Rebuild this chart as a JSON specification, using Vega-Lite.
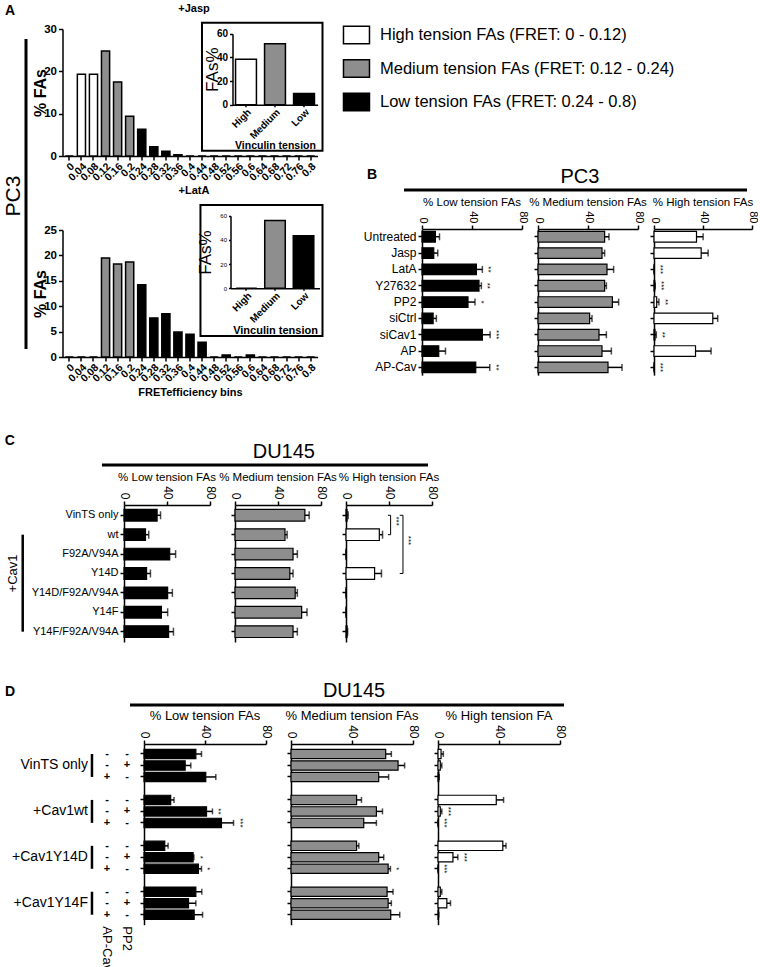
{
"$schema": "https://vega.github.io/schema/vega-lite/v6.json",
"padding": {"left": 2, "top": 2, "right": 0, "bottom": 0},
"config": {
  "font": "Liberation Sans",
  "view": {"stroke": null},
  "mark": {"color": "#000000"},
  "axis": {"domainColor": "#000000", "tickColor": "#000000", "labelColor": "#000000", "titleColor": "#000000", "domainWidth": 1.5, "tickWidth": 1.5, "grid": false},
  "title": {"fontSize": 11.5, "fontWeight": "normal", "color": "#000000", "offset": 2}
},
"datasets": {
  "histJasp": [
    {"bin": "0", "pct": 0, "tension": "High"}, {"bin": "0.04", "pct": 19.3, "tension": "High"}, {"bin": "0.08", "pct": 19.3, "tension": "High"},
    {"bin": "0.12", "pct": 24.8, "tension": "Medium"}, {"bin": "0.16", "pct": 17.5, "tension": "Medium"}, {"bin": "0.2", "pct": 9.4, "tension": "Medium"},
    {"bin": "0.24", "pct": 6.3, "tension": "Low"}, {"bin": "0.28", "pct": 2.2, "tension": "Low"}, {"bin": "0.32", "pct": 1.1, "tension": "Low"},
    {"bin": "0.36", "pct": 0.3, "tension": "Low"}, {"bin": "0.4", "pct": 0, "tension": "Low"}, {"bin": "0.44", "pct": 0, "tension": "Low"},
    {"bin": "0.48", "pct": 0, "tension": "Low"}, {"bin": "0.52", "pct": 0, "tension": "Low"}, {"bin": "0.56", "pct": 0, "tension": "Low"},
    {"bin": "0.6", "pct": 0, "tension": "Low"}, {"bin": "0.64", "pct": 0, "tension": "Low"}, {"bin": "0.68", "pct": 0, "tension": "Low"},
    {"bin": "0.72", "pct": 0, "tension": "Low"}, {"bin": "0.76", "pct": 0, "tension": "Low"}, {"bin": "0.8", "pct": 0, "tension": "Low"}
  ],
  "histLatA": [
    {"bin": "0", "pct": 0, "tension": "High"}, {"bin": "0.04", "pct": 0, "tension": "High"}, {"bin": "0.08", "pct": 0, "tension": "High"},
    {"bin": "0.12", "pct": 19.5, "tension": "Medium"}, {"bin": "0.16", "pct": 18.3, "tension": "Medium"}, {"bin": "0.2", "pct": 18.7, "tension": "Medium"},
    {"bin": "0.24", "pct": 14.2, "tension": "Low"}, {"bin": "0.28", "pct": 7.7, "tension": "Low"}, {"bin": "0.32", "pct": 8.5, "tension": "Low"},
    {"bin": "0.36", "pct": 4.9, "tension": "Low"}, {"bin": "0.4", "pct": 4.5, "tension": "Low"}, {"bin": "0.44", "pct": 2.9, "tension": "Low"},
    {"bin": "0.48", "pct": 0, "tension": "Low"}, {"bin": "0.52", "pct": 0.4, "tension": "Low"}, {"bin": "0.56", "pct": 0, "tension": "Low"},
    {"bin": "0.6", "pct": 0.4, "tension": "Low"}, {"bin": "0.64", "pct": 0, "tension": "Low"}, {"bin": "0.68", "pct": 0, "tension": "Low"},
    {"bin": "0.72", "pct": 0, "tension": "Low"}, {"bin": "0.76", "pct": 0, "tension": "Low"}, {"bin": "0.8", "pct": 0, "tension": "Low"}
  ],
  "insetJasp": [{"tension": "High", "pct": 38.5}, {"tension": "Medium", "pct": 51.5}, {"tension": "Low", "pct": 9.5}],
  "insetLatA": [{"tension": "High", "pct": 0}, {"tension": "Medium", "pct": 56}, {"tension": "Low", "pct": 43.5}],
  "legend": [
    {"tension": "High", "label": "High tension FAs (FRET: 0 - 0.12)"},
    {"tension": "Medium", "label": "Medium tension FAs (FRET: 0.12 - 0.24)"},
    {"tension": "Low", "label": "Low tension FAs (FRET: 0.24 - 0.8)"}
  ],
  "pc3": [
    {"cond": "Untreated", "low": 10.7, "lowErr": 14, "lowSig": "", "med": 53.3, "medErr": 56.8, "high": 34.7, "highErr": 40.1, "highSig": ""},
    {"cond": "Jasp", "low": 9.4, "lowErr": 12.6, "lowSig": "", "med": 51.2, "medErr": 53.3, "high": 38.5, "highErr": 44.2, "highSig": ""},
    {"cond": "LatA", "low": 43.5, "lowErr": 48.3, "lowSig": "**", "med": 55.2, "medErr": 60.5, "high": 0, "highErr": 0, "highSig": "***"},
    {"cond": "Y27632", "low": 45.6, "lowErr": 47.5, "lowSig": "**", "med": 53.3, "medErr": 54.7, "high": 0.6, "highErr": 1, "highSig": "***"},
    {"cond": "PP2", "low": 36.8, "lowErr": 42.4, "lowSig": "*", "med": 59.5, "medErr": 64.5, "high": 2.2, "highErr": 4, "highSig": "**"},
    {"cond": "siCtrl", "low": 8.9, "lowErr": 11.5, "lowSig": "", "med": 41.3, "medErr": 43.2, "high": 48, "highErr": 52, "highSig": ""},
    {"cond": "siCav1", "low": 48.3, "lowErr": 54.5, "lowSig": "***", "med": 48.8, "medErr": 54.7, "high": 0.8, "highErr": 1.9, "highSig": "**"},
    {"cond": "AP", "low": 13.4, "lowErr": 18.8, "lowSig": "", "med": 51.2, "medErr": 58.7, "high": 33.9, "highErr": 46.6, "highSig": ""},
    {"cond": "AP-Cav", "low": 43, "lowErr": 54.2, "lowSig": "**", "med": 56, "medErr": 67.2, "high": 0, "highErr": 0, "highSig": "***"}
  ],
  "du145c": [
    {"cond": "VinTS only", "low": 30.8, "lowErr": 34, "med": 65, "medErr": 69, "high": 1, "highErr": 2},
    {"cond": "wt", "low": 20, "lowErr": 23, "med": 46.5, "medErr": 48.5, "high": 31, "highErr": 34},
    {"cond": "F92A/V94A", "low": 42.5, "lowErr": 48, "med": 54, "medErr": 58, "high": 0, "highErr": 0},
    {"cond": "Y14D", "low": 21, "lowErr": 24.6, "med": 51, "medErr": 54, "high": 26.6, "highErr": 33},
    {"cond": "Y14D/F92A/V94A", "low": 40.6, "lowErr": 45, "med": 56, "medErr": 58, "high": 0, "highErr": 0},
    {"cond": "Y14F", "low": 34.8, "lowErr": 40.6, "med": 62, "medErr": 67, "high": 0, "highErr": 0},
    {"cond": "Y14F/F92A/V94A", "low": 41.5, "lowErr": 46, "med": 54, "medErr": 58, "high": 1, "highErr": 1.5}
  ],
  "du145d": [
    {"id": "v1", "group": "VinTS only", "pos": 1, "apcav": "-", "pp2": "-", "low": 34, "lowErr": 37.7, "lowSig": "", "med": 62.1, "medErr": 65.8, "medSig": "", "high": 2, "highErr": 3.5, "highSig": ""},
    {"id": "v2", "group": "VinTS only", "pos": 2, "apcav": "-", "pp2": "+", "low": 27, "lowErr": 30.7, "lowSig": "", "med": 70.2, "medErr": 74.5, "medSig": "", "high": 1.5, "highErr": 2.5, "highSig": ""},
    {"id": "v3", "group": "VinTS only", "pos": 3, "apcav": "+", "pp2": "-", "low": 40.5, "lowErr": 47.1, "lowSig": "", "med": 57.5, "medErr": 64, "medSig": "", "high": 0.5, "highErr": 0.8, "highSig": ""},
    {"id": "w1", "group": "+Cav1wt", "pos": 1, "apcav": "-", "pp2": "-", "low": 17.5, "lowErr": 19.7, "lowSig": "", "med": 43, "medErr": 46.2, "medSig": "", "high": 38.2, "highErr": 43, "highSig": ""},
    {"id": "w2", "group": "+Cav1wt", "pos": 2, "apcav": "-", "pp2": "+", "low": 41, "lowErr": 44.9, "lowSig": "**", "med": 56, "medErr": 60, "medSig": "", "high": 1.5, "highErr": 2.5, "highSig": "***"},
    {"id": "w3", "group": "+Cav1wt", "pos": 3, "apcav": "+", "pp2": "-", "low": 50.8, "lowErr": 58.7, "lowSig": "***", "med": 47.7, "medErr": 56, "medSig": "", "high": 0, "highErr": 0, "highSig": "***"},
    {"id": "d1", "group": "+Cav1Y14D", "pos": 1, "apcav": "-", "pp2": "-", "low": 13.6, "lowErr": 15.8, "lowSig": "", "med": 43, "medErr": 44.5, "medSig": "", "high": 42.5, "highErr": 44.6, "highSig": ""},
    {"id": "d2", "group": "+Cav1Y14D", "pos": 2, "apcav": "-", "pp2": "+", "low": 32.2, "lowErr": 32.7, "lowSig": "*", "med": 57.5, "medErr": 60.8, "medSig": "", "high": 9.8, "highErr": 13, "highSig": "***"},
    {"id": "d3", "group": "+Cav1Y14D", "pos": 3, "apcav": "+", "pp2": "-", "low": 35.7, "lowErr": 37.7, "lowSig": "*", "med": 63.7, "medErr": 65.2, "medSig": "*", "high": 0, "highErr": 0, "highSig": "***"},
    {"id": "f1", "group": "+Cav1Y14F", "pos": 1, "apcav": "-", "pp2": "-", "low": 34, "lowErr": 37.9, "lowSig": "", "med": 63, "medErr": 66.9, "medSig": "", "high": 1.5, "highErr": 2.5, "highSig": ""},
    {"id": "f2", "group": "+Cav1Y14F", "pos": 2, "apcav": "-", "pp2": "+", "low": 29.2, "lowErr": 34, "lowSig": "", "med": 63.7, "medErr": 65.8, "medSig": "", "high": 5.8, "highErr": 8.2, "highSig": ""},
    {"id": "f3", "group": "+Cav1Y14F", "pos": 3, "apcav": "+", "pp2": "-", "low": 32.9, "lowErr": 38.4, "lowSig": "", "med": 65.4, "medErr": 71.3, "medSig": "", "high": 0.3, "highErr": 0.5, "highSig": ""}
  ]
},
"spacing": 36,
"vconcat": [
 {
  "spacing": 16,
  "hconcat": [
   {
    "spacing": 4.5,
    "hconcat": [
     {
      "width": 22, "height": 323,
      "data": {"values": [{}]},
      "layer": [
       {"mark": {"type": "rule", "strokeWidth": 3},
        "encoding": {"x": {"datum": 1.0, "type": "quantitative", "scale": {"domain": [0, 1]}, "axis": null},
                     "y": {"datum": 0.969, "type": "quantitative", "scale": {"domain": [0, 1]}, "axis": null},
                     "y2": {"datum": 0.0093}}},
       {"mark": {"type": "text", "angle": 270, "fontSize": 21, "align": "center", "baseline": "middle"},
        "encoding": {"x": {"datum": 0.4545, "type": "quantitative", "scale": {"domain": [0, 1]}, "axis": null},
                     "y": {"datum": 0.483, "type": "quantitative", "scale": {"domain": [0, 1]}, "axis": null},
                     "text": {"value": "PC3"}}},
       {"mark": {"type": "text", "fontSize": 14, "fontWeight": "bold", "align": "left", "baseline": "middle"},
        "encoding": {"x": {"datum": 0.05, "type": "quantitative", "scale": {"domain": [0, 1]}, "axis": null},
                     "y": {"datum": 1.0557, "type": "quantitative", "scale": {"domain": [0, 1]}, "axis": null},
                     "text": {"value": "A"}}}
      ]
     },
     {
      "spacing": 1,
      "vconcat": [
       {
        "width": 255, "height": 127,
        "title": {"text": "+Jasp", "fontSize": 11, "fontWeight": "bold", "offset": 8, "frame": "group", "dx": 4},
        "layer": [
         {"data": {"name": "histJasp"},
          "mark": {"type": "bar", "stroke": "#000000", "strokeWidth": 1.5},
          "encoding": {
            "x": {"field": "bin", "type": "ordinal", "sort": null,
                  "scale": {"domain": ["0","0.04","0.08","0.12","0.16","0.2","0.24","0.28","0.32","0.36","0.4","0.44","0.48","0.52","0.56","0.6","0.64","0.68","0.72","0.76","0.8"], "paddingInner": 0.325, "paddingOuter": 0.23},
                  "axis": {"title": null, "labelAngle": -45, "labelFontSize": 10.5, "labelFontWeight": "bold", "tickSize": 4, "labelPadding": 1}},
            "y": {"field": "pct", "type": "quantitative", "scale": {"domain": [0, 30]},
                  "axis": {"values": [0, 10, 20, 30], "title": "% FAs", "titleFontSize": 16, "titleFontWeight": "bold", "labelFontSize": 11.5, "labelFontWeight": "bold", "tickSize": 4, "titlePadding": -5}},
            "fill": {"field": "tension", "type": "nominal", "scale": {"domain": ["High", "Medium", "Low"], "range": ["#ffffff", "#8e8e8e", "#000000"]}, "legend": null}
          }},
         {"data": {"values": [{}]},
          "mark": {"type": "rect", "fill": "#ffffff", "stroke": "#000000", "strokeWidth": 2},
          "encoding": {"x": {"datum": 0.547, "type": "quantitative", "scale": {"domain": [0, 1]}, "axis": null},
                       "x2": {"datum": 1.0196},
                       "y": {"datum": 1.0496, "type": "quantitative", "scale": {"domain": [0, 1]}, "axis": null},
                       "y2": {"datum": 0.0417}}},
         {"data": {"name": "insetJasp"},
          "mark": {"type": "bar", "stroke": "#000000", "strokeWidth": 1.5},
          "encoding": {
            "x": {"field": "tension", "type": "nominal", "sort": null,
                  "scale": {"domain": ["High", "Medium", "Low"], "range": [170, 255], "paddingInner": 0.28, "paddingOuter": 0.105},
                  "axis": {"orient": "bottom", "offset": -51.3, "zindex": 2, "title": "Vinculin tension", "labelAngle": -45, "labelFontSize": 10, "labelFontWeight": "bold", "labelPadding": 0, "titleFontSize": 10.5, "titleFontWeight": "bold", "titlePadding": 0, "tickSize": 2}},
            "y": {"field": "pct", "type": "quantitative", "scale": {"domain": [0, 60], "range": [75.7, 4.7]},
                  "axis": {"orient": "left", "offset": -170, "zindex": 2, "values": [0, 20, 40, 60], "title": "FAs%", "titleFontSize": 17, "titleFontWeight": "normal", "labelFontSize": 10, "labelFontWeight": "bold", "tickSize": 3, "titlePadding": -5}},
            "fill": {"field": "tension", "type": "nominal", "scale": {"domain": ["High", "Medium", "Low"], "range": ["#ffffff", "#8e8e8e", "#000000"]}, "legend": null}
          }}
        ],
        "resolve": {"scale": {"x": "independent", "y": "independent"}}
       },
       {
        "width": 255, "height": 127,
        "title": {"text": "+LatA", "fontSize": 11, "fontWeight": "bold", "offset": 8, "frame": "group", "dx": 4},
        "layer": [
         {"data": {"name": "histLatA"},
          "mark": {"type": "bar", "stroke": "#000000", "strokeWidth": 1.5},
          "encoding": {
            "x": {"field": "bin", "type": "ordinal", "sort": null,
                  "scale": {"domain": ["0","0.04","0.08","0.12","0.16","0.2","0.24","0.28","0.32","0.36","0.4","0.44","0.48","0.52","0.56","0.6","0.64","0.68","0.72","0.76","0.8"], "paddingInner": 0.325, "paddingOuter": 0.23},
                  "axis": {"title": "FRETefficiency bins", "titleFontSize": 11, "titleFontWeight": "bold", "titlePadding": 3, "labelAngle": -45, "labelFontSize": 10.5, "labelFontWeight": "bold", "tickSize": 4, "labelPadding": 1}},
            "y": {"field": "pct", "type": "quantitative", "scale": {"domain": [0, 25]},
                  "axis": {"values": [0, 5, 10, 15, 20, 25], "title": "% FAs", "titleFontSize": 16, "titleFontWeight": "bold", "labelFontSize": 11.5, "labelFontWeight": "bold", "tickSize": 4, "titlePadding": -5}},
            "fill": {"field": "tension", "type": "nominal", "scale": {"domain": ["High", "Medium", "Low"], "range": ["#ffffff", "#8e8e8e", "#000000"]}, "legend": null}
          }},
         {"data": {"values": [{}]},
          "mark": {"type": "rect", "fill": "#ffffff", "stroke": "#000000", "strokeWidth": 2},
          "encoding": {"x": {"datum": 0.541, "type": "quantitative", "scale": {"domain": [0, 1]}, "axis": null},
                       "x2": {"datum": 1.0196},
                       "y": {"datum": 1.197, "type": "quantitative", "scale": {"domain": [0, 1]}, "axis": null},
                       "y2": {"datum": 0.165}}},
         {"data": {"name": "insetLatA"},
          "mark": {"type": "bar", "stroke": "#000000", "strokeWidth": 1.5},
          "encoding": {
            "x": {"field": "tension", "type": "nominal", "sort": null,
                  "scale": {"domain": ["High", "Medium", "Low"], "range": [168, 257], "paddingInner": 0.28, "paddingOuter": 0.2},
                  "axis": {"orient": "bottom", "offset": -68.7, "zindex": 2, "title": "Vinculin tension", "labelAngle": -45, "labelFontSize": 10, "labelFontWeight": "bold", "labelPadding": 0, "titleFontSize": 11, "titleFontWeight": "bold", "titlePadding": 0, "tickSize": 2}},
            "y": {"field": "pct", "type": "quantitative", "scale": {"domain": [0, 60], "range": [58.3, -14.3]},
                  "axis": {"orient": "left", "offset": -168, "zindex": 2, "values": [0, 20, 40, 60], "title": "FAs%", "titleFontSize": 17, "titleFontWeight": "normal", "labelFontSize": 6, "tickSize": 2, "titlePadding": 5}},
            "fill": {"field": "tension", "type": "nominal", "scale": {"domain": ["High", "Medium", "Low"], "range": ["#ffffff", "#8e8e8e", "#000000"]}, "legend": null}
          }}
        ],
        "resolve": {"scale": {"x": "independent", "y": "independent"}}
       }
      ]
     }
    ]
   },
   {
    "spacing": 3,
    "vconcat": [
     {
      "width": 411, "height": 165,
      "layer": [
       {"data": {"name": "legend"},
        "mark": {"type": "point", "shape": "M-1,-0.68H1V0.68H-1Z", "size": 676, "filled": true, "stroke": "#000000", "strokeWidth": 1.5, "opacity": 1},
        "encoding": {
          "x": {"datum": 0.0328, "type": "quantitative", "scale": {"domain": [0, 1]}, "axis": null},
          "y": {"field": "tension", "type": "nominal", "sort": null, "scale": {"type": "point", "domain": ["High", "Medium", "Low"], "range": [6, 73], "padding": 0}, "axis": null},
          "fill": {"field": "tension", "type": "nominal", "scale": {"domain": ["High", "Medium", "Low"], "range": ["#ffffff", "#8e8e8e", "#000000"]}, "legend": null}
        }},
       {"data": {"name": "legend"},
        "mark": {"type": "text", "align": "left", "baseline": "middle", "fontSize": 16.5},
        "encoding": {
          "x": {"datum": 0.09, "type": "quantitative", "scale": {"domain": [0, 1]}, "axis": null},
          "y": {"field": "tension", "type": "nominal", "sort": null, "scale": {"type": "point", "domain": ["High", "Medium", "Low"], "range": [6, 73], "padding": 0}, "axis": null},
          "text": {"field": "label"}
        }},
       {"data": {"values": [{}]},
        "mark": {"type": "rule", "strokeWidth": 3},
        "encoding": {"x": {"datum": 0.1484, "type": "quantitative", "scale": {"domain": [0, 1]}, "axis": null},
                     "x2": {"datum": 0.983},
                     "y": {"datum": 0.0242, "type": "quantitative", "scale": {"domain": [0, 1]}, "axis": null}}},
       {"data": {"values": [{}]},
        "mark": {"type": "text", "fontSize": 20, "align": "center", "baseline": "middle"},
        "encoding": {"x": {"datum": 0.5766, "type": "quantitative", "scale": {"domain": [0, 1]}, "axis": null},
                     "y": {"datum": 0.106, "type": "quantitative", "scale": {"domain": [0, 1]}, "axis": null},
                     "text": {"value": "PC3"}}},
       {"data": {"values": [{}]},
        "mark": {"type": "text", "fontSize": 14, "fontWeight": "bold", "align": "left", "baseline": "middle"},
        "encoding": {"x": {"datum": 0.0584, "type": "quantitative", "scale": {"domain": [0, 1]}, "axis": null},
                     "y": {"datum": 0.115, "type": "quantitative", "scale": {"domain": [0, 1]}, "axis": null},
                     "text": {"value": "B"}}}
      ],
      "resolve": {"scale": {"y": "independent"}}
     },
     {
      "spacing": 16, "bounds": "flush",
      "hconcat": [
       {"width": 63, "height": 1, "data": {"values": [{}]}, "mark": {"type": "text"}, "encoding": {"text": {"value": ""}}},
       {
        "width": 100, "height": {"step": 16.33},
        "title": "% Low tension FAs",
        "data": {"name": "pc3"},
        "encoding": {"y": {"field": "cond", "type": "nominal", "sort": null,
                           "scale": {"type": "band", "domain": ["Untreated","Jasp","LatA","Y27632","PP2","siCtrl","siCav1","AP","AP-Cav"], "paddingInner": 0.35, "paddingOuter": 0.15},
                           "axis": {"title": null, "labelFontSize": 12, "tickSize": 4, "labelPadding": 2}}},
        "layer": [
         {"mark": {"type": "bar", "fill": "#000000", "stroke": "#000000", "strokeWidth": 1.2},
          "encoding": {"x": {"field": "low", "type": "quantitative", "scale": {"domain": [0, 80]},
                             "axis": {"orient": "top", "values": [0, 20, 40, 60, 80], "labelAngle": 90, "labelAlign": "right", "labelBaseline": "middle", "title": null, "labelFontSize": 11, "tickSize": 4, "labelPadding": 2}}}},
         {"mark": {"type": "rule", "strokeWidth": 1.5}, "encoding": {"x": {"field": "low", "type": "quantitative"}, "x2": {"field": "lowErr"}}},
         {"mark": {"type": "tick", "orient": "vertical", "thickness": 1.5, "size": 7}, "encoding": {"x": {"field": "lowErr", "type": "quantitative"}}},
         {"mark": {"type": "text", "angle": 90, "fontSize": 8, "dy": -6, "align": "center", "baseline": "middle"}, "encoding": {"x": {"field": "lowErr", "type": "quantitative"}, "text": {"field": "lowSig"}}}
        ]
       },
       {
        "width": 100, "height": {"step": 16.33},
        "title": "% Medium tension FAs",
        "data": {"name": "pc3"},
        "encoding": {"y": {"field": "cond", "type": "nominal", "sort": null,
                           "scale": {"type": "band", "domain": ["Untreated","Jasp","LatA","Y27632","PP2","siCtrl","siCav1","AP","AP-Cav"], "paddingInner": 0.35, "paddingOuter": 0.15},
                           "axis": {"title": null, "labels": false, "tickSize": 4}}},
        "layer": [
         {"mark": {"type": "bar", "fill": "#8e8e8e", "stroke": "#000000", "strokeWidth": 1.2},
          "encoding": {"x": {"field": "med", "type": "quantitative", "scale": {"domain": [0, 80]},
                             "axis": {"orient": "top", "values": [0, 20, 40, 60, 80], "labelAngle": 90, "labelAlign": "right", "labelBaseline": "middle", "title": null, "labelFontSize": 11, "tickSize": 4, "labelPadding": 2}}}},
         {"mark": {"type": "rule", "strokeWidth": 1.5}, "encoding": {"x": {"field": "med", "type": "quantitative"}, "x2": {"field": "medErr"}}},
         {"mark": {"type": "tick", "orient": "vertical", "thickness": 1.5, "size": 7}, "encoding": {"x": {"field": "medErr", "type": "quantitative"}}}
        ]
       },
       {
        "width": 98, "height": {"step": 16.33},
        "title": "% High tension FAs",
        "data": {"name": "pc3"},
        "encoding": {"y": {"field": "cond", "type": "nominal", "sort": null,
                           "scale": {"type": "band", "domain": ["Untreated","Jasp","LatA","Y27632","PP2","siCtrl","siCav1","AP","AP-Cav"], "paddingInner": 0.35, "paddingOuter": 0.15},
                           "axis": {"title": null, "labels": false, "tickSize": 4}}},
        "layer": [
         {"mark": {"type": "bar", "fill": "#ffffff", "stroke": "#000000", "strokeWidth": 1.2},
          "encoding": {"x": {"field": "high", "type": "quantitative", "scale": {"domain": [0, 80]},
                             "axis": {"orient": "top", "values": [0, 20, 40, 60, 80], "labelAngle": 90, "labelAlign": "right", "labelBaseline": "middle", "title": null, "labelFontSize": 11, "tickSize": 4, "labelPadding": 2}}}},
         {"mark": {"type": "rule", "strokeWidth": 1.5}, "encoding": {"x": {"field": "high", "type": "quantitative"}, "x2": {"field": "highErr"}}},
         {"mark": {"type": "tick", "orient": "vertical", "thickness": 1.5, "size": 7}, "encoding": {"x": {"field": "highErr", "type": "quantitative"}}},
         {"mark": {"type": "text", "angle": 90, "fontSize": 8, "dy": -6, "align": "center", "baseline": "middle"}, "encoding": {"x": {"field": "highErr", "type": "quantitative"}, "text": {"field": "highSig"}}}
        ]
       }
      ]
     }
    ]
   }
  ]
 },
 {
  "spacing": 5,
  "vconcat": [
   {
    "width": 424, "height": 32,
    "data": {"values": [{}]},
    "layer": [
     {"mark": {"type": "rule", "strokeWidth": 3},
      "encoding": {"x": {"datum": 0.231, "type": "quantitative", "scale": {"domain": [0, 1]}, "axis": null}, "x2": {"datum": 1},
                   "y": {"datum": 0.031, "type": "quantitative", "scale": {"domain": [0, 1]}, "axis": null}}},
     {"mark": {"type": "text", "fontSize": 20, "align": "center", "baseline": "middle"},
      "encoding": {"x": {"datum": 0.66, "type": "quantitative", "scale": {"domain": [0, 1]}, "axis": null},
                   "y": {"datum": 0.4375, "type": "quantitative", "scale": {"domain": [0, 1]}, "axis": null},
                   "text": {"value": "DU145"}}},
     {"mark": {"type": "text", "fontSize": 14, "fontWeight": "bold", "align": "left", "baseline": "middle"},
      "encoding": {"x": {"datum": 0.002, "type": "quantitative", "scale": {"domain": [0, 1]}, "axis": null},
                   "y": {"datum": 0.78, "type": "quantitative", "scale": {"domain": [0, 1]}, "axis": null},
                   "text": {"value": "C"}}}
    ]
   },
   {
    "spacing": 25, "bounds": "flush",
    "hconcat": [
     {
      "width": 95, "height": {"step": 19.4},
      "data": {"name": "du145c"},
      "encoding": {"y": {"field": "cond", "type": "nominal", "sort": null,
                         "scale": {"type": "band", "domain": ["VinTS only","wt","F92A/V94A","Y14D","Y14D/F92A/V94A","Y14F","Y14F/F92A/V94A"], "paddingInner": 0.4, "paddingOuter": 0.23},
                         "axis": null}},
      "layer": [
       {"transform": [{"filter": "datum.cond != 'VinTS only'"}],
        "mark": {"type": "line", "strokeWidth": 2.5},
        "encoding": {"x": {"datum": 0.197, "type": "quantitative", "scale": {"domain": [0, 1]}, "axis": null}}},
       {"mark": {"type": "text", "angle": 270, "fontSize": 13, "align": "center", "baseline": "middle"},
        "transform": [{"filter": "datum.cond == 'Y14D'"}],
        "encoding": {"x": {"datum": 0.095, "type": "quantitative", "scale": {"domain": [0, 1]}, "axis": null},
                     "text": {"value": "+Cav1"}}}
      ]
     },
     {
      "width": 86, "height": {"step": 19.4},
      "title": "% Low tension FAs",
      "data": {"name": "du145c"},
      "encoding": {"y": {"field": "cond", "type": "nominal", "sort": null,
                         "scale": {"type": "band", "domain": ["VinTS only","wt","F92A/V94A","Y14D","Y14D/F92A/V94A","Y14F","Y14F/F92A/V94A"], "paddingInner": 0.4, "paddingOuter": 0.23},
                         "axis": {"title": null, "labelFontSize": 11, "tickSize": 4, "labelPadding": 2}}},
      "layer": [
       {"mark": {"type": "bar", "fill": "#000000", "stroke": "#000000", "strokeWidth": 1.2},
        "encoding": {"x": {"field": "low", "type": "quantitative", "scale": {"domain": [0, 80]},
                           "axis": {"orient": "top", "values": [0, 20, 40, 60, 80], "labelAngle": 90, "labelAlign": "right", "labelBaseline": "middle", "title": null, "labelFontSize": 12, "tickSize": 4, "labelPadding": 2}}}},
       {"mark": {"type": "rule", "strokeWidth": 1.5}, "encoding": {"x": {"field": "low", "type": "quantitative"}, "x2": {"field": "lowErr"}}},
       {"mark": {"type": "tick", "orient": "vertical", "thickness": 1.5, "size": 8}, "encoding": {"x": {"field": "lowErr", "type": "quantitative"}}}
      ]
     },
     {
      "width": 86, "height": {"step": 19.4},
      "title": "% Medium tension FAs",
      "data": {"name": "du145c"},
      "encoding": {"y": {"field": "cond", "type": "nominal", "sort": null,
                         "scale": {"type": "band", "domain": ["VinTS only","wt","F92A/V94A","Y14D","Y14D/F92A/V94A","Y14F","Y14F/F92A/V94A"], "paddingInner": 0.4, "paddingOuter": 0.23},
                         "axis": {"title": null, "labels": false, "tickSize": 4}}},
      "layer": [
       {"mark": {"type": "bar", "fill": "#8e8e8e", "stroke": "#000000", "strokeWidth": 1.2},
        "encoding": {"x": {"field": "med", "type": "quantitative", "scale": {"domain": [0, 80]},
                           "axis": {"orient": "top", "values": [0, 20, 40, 60, 80], "labelAngle": 90, "labelAlign": "right", "labelBaseline": "middle", "title": null, "labelFontSize": 12, "tickSize": 4, "labelPadding": 2}}}},
       {"mark": {"type": "rule", "strokeWidth": 1.5}, "encoding": {"x": {"field": "med", "type": "quantitative"}, "x2": {"field": "medErr"}}},
       {"mark": {"type": "tick", "orient": "vertical", "thickness": 1.5, "size": 8}, "encoding": {"x": {"field": "medErr", "type": "quantitative"}}}
      ]
     },
     {
      "width": 86, "height": {"step": 19.4},
      "title": "% High tension FAs",
      "data": {"name": "du145c"},
      "encoding": {"y": {"field": "cond", "type": "nominal", "sort": null,
                         "scale": {"type": "band", "domain": ["VinTS only","wt","F92A/V94A","Y14D","Y14D/F92A/V94A","Y14F","Y14F/F92A/V94A"], "paddingInner": 0.4, "paddingOuter": 0.23},
                         "axis": {"title": null, "labels": false, "tickSize": 4}}},
      "layer": [
       {"mark": {"type": "bar", "fill": "#ffffff", "stroke": "#000000", "strokeWidth": 1.2},
        "encoding": {"x": {"field": "high", "type": "quantitative", "scale": {"domain": [0, 80]},
                           "axis": {"orient": "top", "values": [0, 20, 40, 60, 80], "labelAngle": 90, "labelAlign": "right", "labelBaseline": "middle", "title": null, "labelFontSize": 12, "tickSize": 4, "labelPadding": 2}}}},
       {"mark": {"type": "rule", "strokeWidth": 1.5}, "encoding": {"x": {"field": "high", "type": "quantitative"}, "x2": {"field": "highErr"}}},
       {"mark": {"type": "tick", "orient": "vertical", "thickness": 1.5, "size": 8}, "encoding": {"x": {"field": "highErr", "type": "quantitative"}}},
       {"transform": [{"filter": "datum.cond == 'VinTS only' || datum.cond == 'wt'"}],
        "mark": {"type": "line", "strokeWidth": 1},
        "encoding": {"x": {"datum": 41.5, "type": "quantitative"}}},
       {"transform": [{"filter": "datum.cond == 'VinTS only' || datum.cond == 'wt'"}],
        "mark": {"type": "rule", "strokeWidth": 1},
        "encoding": {"x": {"datum": 39, "type": "quantitative"}, "x2": {"datum": 41.5}}},
       {"transform": [{"filter": "datum.cond == 'VinTS only' || datum.cond == 'Y14D'"}],
        "mark": {"type": "line", "strokeWidth": 1},
        "encoding": {"x": {"datum": 53, "type": "quantitative"}}},
       {"transform": [{"filter": "datum.cond == 'VinTS only' || datum.cond == 'Y14D'"}],
        "mark": {"type": "rule", "strokeWidth": 1},
        "encoding": {"x": {"datum": 50, "type": "quantitative"}, "x2": {"datum": 53}}},
       {"transform": [{"filter": "datum.cond == 'VinTS only'"}],
        "mark": {"type": "text", "angle": 90, "fontSize": 8, "dy": -5, "align": "center", "baseline": "middle"},
        "encoding": {"x": {"datum": 41.5, "type": "quantitative"}, "y": {"field": "cond", "type": "nominal", "bandPosition": 1}, "text": {"value": "***"}}},
       {"transform": [{"filter": "datum.cond == 'wt'"}],
        "mark": {"type": "text", "angle": 90, "fontSize": 8, "dy": -5, "align": "center", "baseline": "middle"},
        "encoding": {"x": {"datum": 53, "type": "quantitative"}, "y": {"field": "cond", "type": "nominal", "bandPosition": 1}, "text": {"value": "***"}}}
      ]
     }
    ]
   }
  ]
 },
 {
  "spacing": 2,
  "vconcat": [
   {
    "width": 560, "height": 29,
    "data": {"values": [{}]},
    "layer": [
     {"mark": {"type": "rule", "strokeWidth": 3},
      "encoding": {"x": {"datum": 0.225, "type": "quantitative", "scale": {"domain": [0, 1]}, "axis": null}, "x2": {"datum": 1},
                   "y": {"datum": 0.069, "type": "quantitative", "scale": {"domain": [0, 1]}, "axis": null}}},
     {"mark": {"type": "text", "fontSize": 20, "align": "center", "baseline": "middle"},
      "encoding": {"x": {"datum": 0.625, "type": "quantitative", "scale": {"domain": [0, 1]}, "axis": null},
                   "y": {"datum": 0.552, "type": "quantitative", "scale": {"domain": [0, 1]}, "axis": null},
                   "text": {"value": "DU145"}}},
     {"mark": {"type": "text", "fontSize": 14, "fontWeight": "bold", "align": "left", "baseline": "middle"},
      "encoding": {"x": {"datum": 0.002, "type": "quantitative", "scale": {"domain": [0, 1]}, "axis": null},
                   "y": {"datum": 0.517, "type": "quantitative", "scale": {"domain": [0, 1]}, "axis": null},
                   "text": {"value": "D"}}}
    ]
   },
   {
    "spacing": 25, "bounds": "flush",
    "hconcat": [
     {
      "width": 115, "height": {"step": 11.48},
      "data": {"name": "du145d"},
      "encoding": {"y": {"field": "id", "type": "nominal", "sort": null,
                         "scale": {"type": "band", "domain": ["v1","v2","v3","s1","w1","w2","w3","s2","d1","d2","d3","s3","f1","f2","f3"], "paddingInner": 0.19, "paddingOuter": 0.466},
                         "axis": null}},
      "layer": [
       {"transform": [{"filter": "datum.pos == 2"}],
        "mark": {"type": "text", "align": "right", "baseline": "middle", "fontSize": 14},
        "encoding": {"x": {"datum": 0.73, "type": "quantitative", "scale": {"domain": [0, 1]}, "axis": null}, "text": {"field": "group"}}},
       {"mark": {"type": "line", "strokeWidth": 2.5},
        "encoding": {"x": {"datum": 0.765, "type": "quantitative", "scale": {"domain": [0, 1]}, "axis": null}, "detail": {"field": "group"}}},
       {"mark": {"type": "text", "align": "center", "baseline": "middle", "fontSize": 11, "fontWeight": "bold"},
        "encoding": {"x": {"datum": 0.896, "type": "quantitative", "scale": {"domain": [0, 1]}, "axis": null}, "text": {"field": "apcav"}}},
       {"mark": {"type": "text", "align": "center", "baseline": "middle", "fontSize": 11, "fontWeight": "bold"},
        "encoding": {"x": {"datum": 1.07, "type": "quantitative", "scale": {"domain": [0, 1]}, "axis": null}, "text": {"field": "pp2"}}},
       {"transform": [{"filter": "datum.id == 'f3'"}],
        "mark": {"type": "text", "angle": 90, "align": "left", "baseline": "middle", "fontSize": 13, "dx": 7},
        "encoding": {"x": {"datum": 0.896, "type": "quantitative", "scale": {"domain": [0, 1]}, "axis": null},
                     "y": {"field": "id", "type": "nominal", "bandPosition": 1}, "text": {"value": "AP-Cav"}}},
       {"transform": [{"filter": "datum.id == 'f3'"}],
        "mark": {"type": "text", "angle": 90, "align": "left", "baseline": "middle", "fontSize": 13, "dx": 7},
        "encoding": {"x": {"datum": 1.07, "type": "quantitative", "scale": {"domain": [0, 1]}, "axis": null},
                     "y": {"field": "id", "type": "nominal", "bandPosition": 1}, "text": {"value": "PP2"}}}
      ]
     },
     {
      "width": 122, "height": {"step": 11.48},
      "title": {"text": "% Low tension FAs", "fontSize": 13},
      "data": {"name": "du145d"},
      "encoding": {"y": {"field": "id", "type": "nominal", "sort": null,
                         "scale": {"type": "band", "domain": ["v1","v2","v3","s1","w1","w2","w3","s2","d1","d2","d3","s3","f1","f2","f3"], "paddingInner": 0.19, "paddingOuter": 0.466},
                         "axis": {"title": null, "labels": false, "tickSize": 4, "values": ["v1","v2","v3","w1","w2","w3","d1","d2","d3","f1","f2","f3"]}}},
      "layer": [
       {"mark": {"type": "bar", "fill": "#000000", "stroke": "#000000", "strokeWidth": 1.2},
        "encoding": {"x": {"field": "low", "type": "quantitative", "scale": {"domain": [0, 80]},
                           "axis": {"orient": "top", "values": [0, 20, 40, 60, 80], "labelAngle": 90, "labelAlign": "right", "labelBaseline": "middle", "title": null, "labelFontSize": 12, "tickSize": 4, "labelPadding": 2}}}},
       {"mark": {"type": "rule", "strokeWidth": 1.5}, "encoding": {"x": {"field": "low", "type": "quantitative"}, "x2": {"field": "lowErr"}}},
       {"mark": {"type": "tick", "orient": "vertical", "thickness": 1.5, "size": 6}, "encoding": {"x": {"field": "lowErr", "type": "quantitative"}}},
       {"mark": {"type": "text", "angle": 90, "fontSize": 8, "dy": -6, "align": "center", "baseline": "middle"}, "encoding": {"x": {"field": "lowErr", "type": "quantitative"}, "text": {"field": "lowSig"}}}
      ]
     },
     {
      "width": 122, "height": {"step": 11.48},
      "title": {"text": "% Medium tension FAs", "fontSize": 13},
      "data": {"name": "du145d"},
      "encoding": {"y": {"field": "id", "type": "nominal", "sort": null,
                         "scale": {"type": "band", "domain": ["v1","v2","v3","s1","w1","w2","w3","s2","d1","d2","d3","s3","f1","f2","f3"], "paddingInner": 0.19, "paddingOuter": 0.466},
                         "axis": {"title": null, "labels": false, "tickSize": 4, "values": ["v1","v2","v3","w1","w2","w3","d1","d2","d3","f1","f2","f3"]}}},
      "layer": [
       {"mark": {"type": "bar", "fill": "#8e8e8e", "stroke": "#000000", "strokeWidth": 1.2},
        "encoding": {"x": {"field": "med", "type": "quantitative", "scale": {"domain": [0, 80]},
                           "axis": {"orient": "top", "values": [0, 20, 40, 60, 80], "labelAngle": 90, "labelAlign": "right", "labelBaseline": "middle", "title": null, "labelFontSize": 12, "tickSize": 4, "labelPadding": 2}}}},
       {"mark": {"type": "rule", "strokeWidth": 1.5}, "encoding": {"x": {"field": "med", "type": "quantitative"}, "x2": {"field": "medErr"}}},
       {"mark": {"type": "tick", "orient": "vertical", "thickness": 1.5, "size": 6}, "encoding": {"x": {"field": "medErr", "type": "quantitative"}}},
       {"mark": {"type": "text", "angle": 90, "fontSize": 8, "dy": -6, "align": "center", "baseline": "middle"}, "encoding": {"x": {"field": "medErr", "type": "quantitative"}, "text": {"field": "medSig"}}}
      ]
     },
     {
      "width": 122, "height": {"step": 11.48},
      "title": {"text": "% High tension FA", "fontSize": 13},
      "data": {"name": "du145d"},
      "encoding": {"y": {"field": "id", "type": "nominal", "sort": null,
                         "scale": {"type": "band", "domain": ["v1","v2","v3","s1","w1","w2","w3","s2","d1","d2","d3","s3","f1","f2","f3"], "paddingInner": 0.19, "paddingOuter": 0.466},
                         "axis": {"title": null, "labels": false, "tickSize": 4, "values": ["v1","v2","v3","w1","w2","w3","d1","d2","d3","f1","f2","f3"]}}},
      "layer": [
       {"mark": {"type": "bar", "fill": "#ffffff", "stroke": "#000000", "strokeWidth": 1.2},
        "encoding": {"x": {"field": "high", "type": "quantitative", "scale": {"domain": [0, 80]},
                           "axis": {"orient": "top", "values": [0, 20, 40, 60, 80], "labelAngle": 90, "labelAlign": "right", "labelBaseline": "middle", "title": null, "labelFontSize": 12, "tickSize": 4, "labelPadding": 2}}}},
       {"mark": {"type": "rule", "strokeWidth": 1.5}, "encoding": {"x": {"field": "high", "type": "quantitative"}, "x2": {"field": "highErr"}}},
       {"mark": {"type": "tick", "orient": "vertical", "thickness": 1.5, "size": 6}, "encoding": {"x": {"field": "highErr", "type": "quantitative"}}},
       {"mark": {"type": "text", "angle": 90, "fontSize": 8, "dy": -6, "align": "center", "baseline": "middle"}, "encoding": {"x": {"field": "highErr", "type": "quantitative"}, "text": {"field": "highSig"}}}
      ]
     }
    ]
   }
  ]
 }
]
}
